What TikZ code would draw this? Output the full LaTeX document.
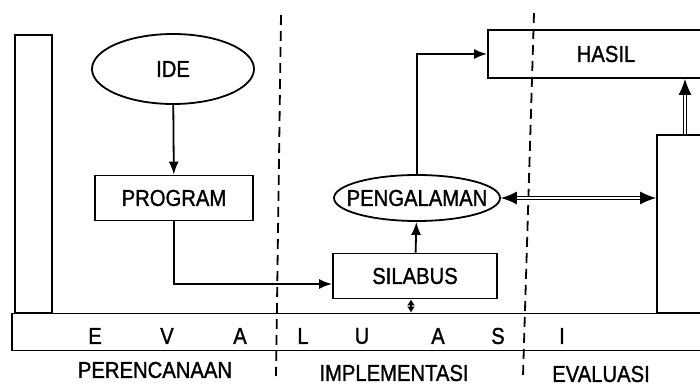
\documentclass[tikz,border=0pt]{standalone}
\usepackage{fontspec}
\setmainfont[FakeStretch=0.88, FakeBold=1.2]{Liberation Sans}
\usetikzlibrary{shapes, arrows.meta, positioning, calc}

\tikzset{
  box/.style={draw, rectangle, inner sep=0pt},
  oval/.style={draw, ellipse, inner sep=0pt},
  flow/.style={-{Latex[length=13pt,width=10pt]}},
  dflow/.style={double, double distance=2.5pt, line width=1.2pt,
    {Latex[length=16pt,width=13pt]}-{Latex[length=16pt,width=13pt]}},
  upflow/.style={double, double distance=2.5pt, line width=1.2pt,
    -{Latex[length=16pt,width=13pt]}},
  tick/.style={{Latex[length=6pt,width=8pt]}-{Latex[length=6pt,width=8pt]}},
  phase/.style={dash pattern=on 10pt off 6pt, line width=1.8pt}
}

\begin{document}
\begin{tikzpicture}[x=1pt, y=-1pt, line width=1.8pt, font=\fontsize{23}{27}\selectfont]
    \useasboundingbox (0,0) rectangle (700,387);
    \clip (0,0) rectangle (700,387);

    % Phases
    \draw[phase] (281,15) -- (276,376);
    \draw[phase] (534,13) -- (523,376);

    % Frame
    \node[box, minimum width=37, minimum height=278] (frame) at (33.5,174) {};
    \node[box, minimum width=700, minimum height=37] (bar) at (362,332) {};
    \foreach \ch/\x in {E/95, V/167, A/240, L/303, U/362, A/438, S/498, I/562}
      \node (letter\x) at (\x,336) {\ch};

    % Planning
    \node[oval, minimum width=162, minimum height=70] (ide) at (173,69) {IDE};
    \node[box, minimum width=158, minimum height=45] (program) at (174,198) {PROGRAM};

    % Implementation
    \node[box, minimum width=164, minimum height=45] (silabus) at (415,276) {SILABUS};
    \node[oval, minimum width=166, minimum height=46] (pengalaman) at (417,198)
      {\makebox[0pt]{PENGALAMAN}};

    % Evaluation
    \node[box, minimum width=236, minimum height=48] (hasil) at (606,54) {HASIL};
    \node[box, minimum width=90, minimum height=178] (penilaian) at (702,224) {};

    \draw[flow] (ide) -- (program);
    \draw[flow] (program.south) |- ([yshift=-8pt]silabus.west);
    \draw[flow] (silabus) -- (pengalaman);
    \draw[flow] (pengalaman.north) |- (hasil.west);
    \draw[dflow] (pengalaman.east) -- (pengalaman.east -| penilaian.west);
    \draw[upflow] ([xshift=-17pt]penilaian.north) -- ([xshift=-17pt]penilaian.north |- hasil.south);
    \draw[tick] ([xshift=-4pt]silabus.south) -- ([xshift=-4pt]silabus.south |- bar.north);

    % Phase names
    \node (perencanaan) at (155,370) {PERENCANAAN};
    \node (implementasi) at (394,373) {IMPLEMENTASI};
    \node (evaluasi) at (601,374) {EVALUASI};
\end{tikzpicture}
\end{document}
